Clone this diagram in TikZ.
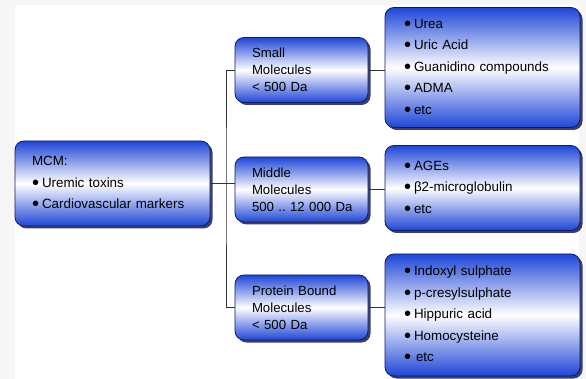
\documentclass[tikz,border=0pt]{standalone}
\usepackage{fontspec}
\setmainfont{Liberation Sans}
\usetikzlibrary{shadows}
\definecolor{boxblue}{RGB}{30,70,215}
\definecolor{boxline}{RGB}{15,25,105}
\definecolor{shadowblue}{RGB}{10,15,70}
\newcommand{\itm}{\makebox[10pt][l]{\raisebox{-2.2pt}{\scalebox{1.5}{\textbullet}}}}
\frenchspacing
\begin{document}
\begin{tikzpicture}[x = 1pt, y = -1pt,
	box/.style = {draw = boxline, line width = 0.8pt, rounded corners = 9pt,
		top color = boxblue, bottom color = boxblue, middle color = white,
		drop shadow = {shadow xshift = 2.5pt, shadow yshift = -2.5pt, fill = shadowblue, opacity = 0.8},
		align = left, inner ysep = 0pt, font = \fontsize{13.4}{21.5}\selectfont},
	listbox/.style = {box, minimum width = 195pt, text width = 157pt, inner xsep = 19pt},
	groupbox/.style = {box, minimum width = 133pt, text width = 99pt, inner xsep = 17pt,
		minimum height = 65pt, font = \fontsize{13.2}{17}\selectfont},
	link/.style = {draw = black!80, line width = 0.8pt}]
	\useasboundingbox ( 0, 0 ) rectangle ( 586, 379 );
	\fill[gray!7] ( 0, 0 ) rectangle ( 586, 379 );
	\fill[white] ( 15, 5 ) rectangle ( 579, 379 );

	\node[box, minimum width = 195pt, minimum height = 85pt, text width = 161pt, inner xsep = 17pt]
		(mcm) at ( 112.5, 183.5 ) {MCM:\\ \itm Uremic toxins\\ \itm Cardiovascular markers};

	\node[groupbox] (small) at ( 301.5, 70 ) {Small\\ Molecules\\ < 500 Da};
	\node[groupbox] (middle) at ( 301.5, 189.5 ) {Middle\\ Molecules\\ 500~..~12~000~Da};
	\node[groupbox] (protein) at ( 301.5, 307.5 ) {Protein Bound\\ Molecules\\ < 500 Da};

	\node[listbox, minimum height = 120pt] (smalllist) at ( 482.5, 67.5 )
		{\itm Urea\\ \itm Uric Acid\\ \itm Guanidino compounds\\ \itm ADMA\\ \itm etc};
	\node[listbox, minimum height = 85pt] (middlelist) at ( 482.5, 188 )
		{\itm AGEs\\ \itm β2-microglobulin\\ \itm etc};
	\node[listbox, minimum height = 122pt] (proteinlist) at ( 482.5, 315 )
		{\itm Indoxyl sulphate\\ \itm p-cresylsulphate\\ \itm Hippuric acid\\ \itm Homocysteine\\ \itm\hspace{2pt}etc};

	% tree lines
	\coordinate (bar) at ( 226, 183 );
	\draw[link] (mcm.east |- bar) -- (bar);
	\draw[link] (small.west) -| (bar) |- (protein.west);
	\draw[link] (bar) -- (bar -| middle.west);
	\draw[link] (small.east) -- (small.east -| smalllist.west);
	\draw[link] (middle.east) -- (middle.east -| middlelist.west);
	\draw[link] (protein.east) -- (protein.east -| proteinlist.west);
\end{tikzpicture}
\end{document}
